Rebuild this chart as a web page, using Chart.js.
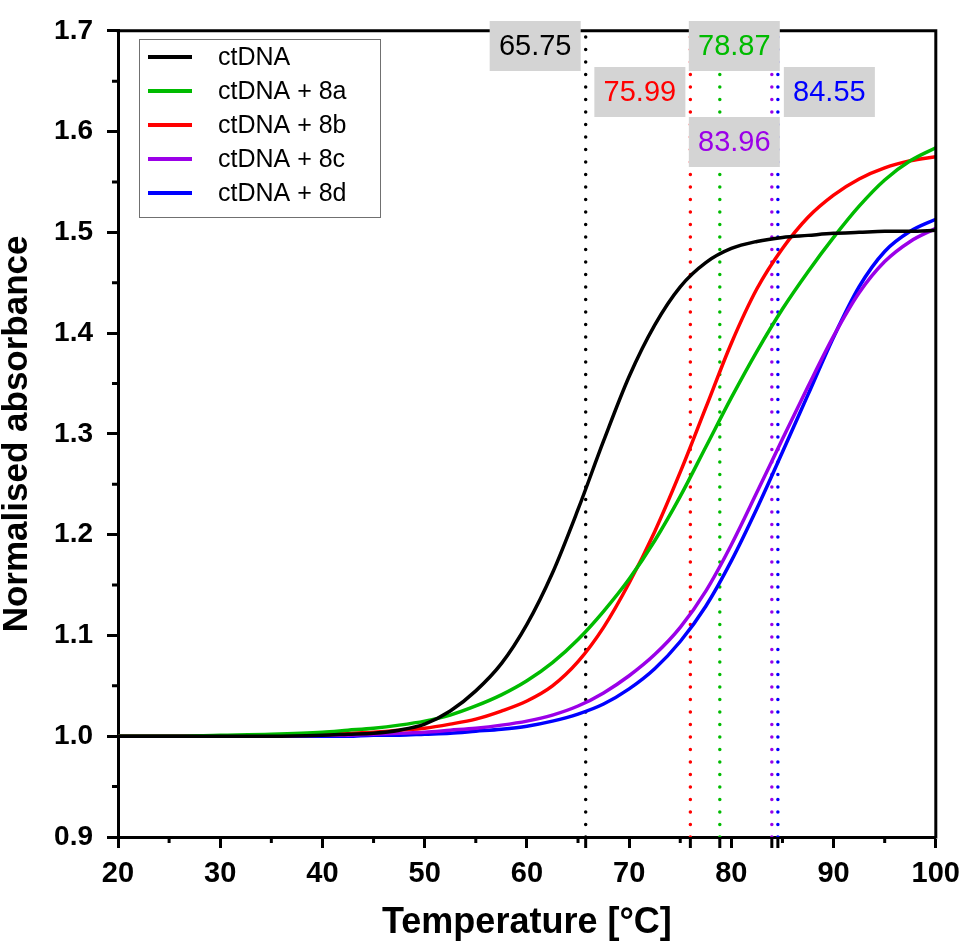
<!DOCTYPE html>
<html>
<head>
<meta charset="utf-8">
<script src="https://cdn.jsdelivr.net/npm/chart.js@4"></script>
<style>
  body { margin: 0; padding: 0; background: #fff; }
  #wrap { width: 969px; height: 946px; }
</style>
</head>
<body>
<div id="wrap"><canvas id="chart" width="969" height="946"></canvas></div>
<script>
// temperatures (°C) shared by every curve
const temps = [20, 25, 30, 35, 40, 42.5, 45, 47.5, 50, 52.5, 55, 57.5, 60, 62.5, 65, 67.5, 70,
               72.5, 75, 77.5, 80, 82.5, 85, 87.5, 90, 92.5, 95, 97.5, 100];

const ctDNA   = [1.000, 1.000, 1.000, 1.000, 1.001, 1.002, 1.003, 1.006, 1.012, 1.025, 1.045, 1.072, 1.111, 1.162, 1.225, 1.293, 1.357,
                 1.408, 1.446, 1.470, 1.484, 1.491, 1.495, 1.497, 1.499, 1.500, 1.501, 1.501, 1.502];
const ctDNA8a = [1.000, 1.000, 1.001, 1.002, 1.004, 1.006, 1.008, 1.011, 1.015, 1.021, 1.030, 1.041, 1.055, 1.073, 1.096, 1.124, 1.156,
                 1.194, 1.238, 1.287, 1.336, 1.382, 1.424, 1.461, 1.495, 1.526, 1.552, 1.571, 1.584];
const ctDNA8b = [1.000, 1.000, 1.000, 1.001, 1.002, 1.003, 1.004, 1.006, 1.008, 1.012, 1.017, 1.025, 1.035, 1.050, 1.074, 1.108, 1.152,
                 1.203, 1.262, 1.326, 1.390, 1.444, 1.484, 1.515, 1.537, 1.553, 1.564, 1.571, 1.575];
const ctDNA8c = [1.000, 1.000, 1.000, 1.000, 1.001, 1.001, 1.002, 1.003, 1.004, 1.006, 1.008, 1.011, 1.015, 1.021, 1.030, 1.043, 1.060,
                 1.081, 1.108, 1.144, 1.190, 1.242, 1.295, 1.347, 1.397, 1.440, 1.471, 1.491, 1.504];
const ctDNA8d = [1.000, 1.000, 1.000, 1.000, 1.000, 1.000, 1.001, 1.001, 1.002, 1.003, 1.005, 1.007, 1.010, 1.015, 1.022, 1.032, 1.047,
                 1.067, 1.094, 1.129, 1.174, 1.226, 1.282, 1.339, 1.396, 1.446, 1.481, 1.501, 1.513];

const seriesNames = ['ctDNA', 'ctDNA + 8a', 'ctDNA + 8b', 'ctDNA + 8c', 'ctDNA + 8d'];
const seriesColors = ['#000000', '#00bb00', '#ff0000', '#9b00e8', '#0000ff'];
const seriesValues = [ctDNA, ctDNA8a, ctDNA8b, ctDNA8c, ctDNA8d];

// melting temperatures, one per series
const meltTemps = [65.75, 78.87, 75.99, 83.96, 84.55];
const meltText  = ['65.75', '78.87', '75.99', '83.96', '84.55'];

const xTicks = [20, 30, 40, 50, 60, 70, 80, 90, 100];
const xMinor = [25, 35, 45, 55, 65, 75, 85, 95];
const yTicks = [0.9, 1.0, 1.1, 1.2, 1.3, 1.4, 1.5, 1.6, 1.7];
const yMinor = [0.95, 1.05, 1.15, 1.25, 1.35, 1.45, 1.55, 1.65];

// label box placement: left edge offset from the Tm line (px), top edge (px)
const boxPlace = [
  { dx: -96, top: 21 },
  { dx: -31, top: 21 },
  { dx: -96, top: 67 },
  { dx: -83, top: 117 },
  { dx: 6,   top: 67 }
];

const FONT = '"Liberation Sans", Arial, sans-serif';

const curveSets = seriesValues.map((vals, i) => ({
  label: seriesNames[i],
  data: temps.map((t, k) => ({ x: t, y: vals[k] })),
  borderColor: seriesColors[i],
  borderWidth: 3.5,
  pointRadius: 0,
  cubicInterpolationMode: 'monotone',
  fill: false,
  order: 1
}));

const lineSets = meltTemps.map((tm, i) => ({
  label: 'Tm ' + seriesNames[i],
  data: [{ x: tm, y: 0.9 }, { x: tm, y: 1.7 }],
  borderColor: seriesColors[i],
  borderWidth: 3.5,
  borderDash: [0, 12.5],
  borderCapStyle: 'round',
  pointRadius: 0,
  tension: 0,
  fill: false,
  order: 2
}));

const extras = {
  id: 'extras',
  afterDraw(chart) {
    const ctx = chart.ctx;
    const a = chart.chartArea;
    const x = chart.scales.x, y = chart.scales.y;
    ctx.save();
    ctx.strokeStyle = '#000';
    ctx.lineWidth = 3;
    ctx.lineCap = 'butt';
    // frame top + right
    ctx.beginPath();
    ctx.moveTo(a.left - 1.5, a.top);
    ctx.lineTo(a.right, a.top);
    ctx.lineTo(a.right, a.bottom + 1.5);
    ctx.stroke();
    // minor ticks
    ctx.beginPath();
    xMinor.forEach(v => { const p = x.getPixelForValue(v); ctx.moveTo(p, a.bottom); ctx.lineTo(p, a.bottom + 6); });
    yMinor.forEach(v => { const p = y.getPixelForValue(v); ctx.moveTo(a.left, p); ctx.lineTo(a.left - 6, p); });
    // ticks at the melting temperatures
    meltTemps.forEach(v => { const p = x.getPixelForValue(v); ctx.moveTo(p, a.bottom); ctx.lineTo(p, a.bottom + 11); });
    ctx.stroke();

    // Tm label boxes
    ctx.font = '29px ' + FONT;
    ctx.textAlign = 'center';
    ctx.textBaseline = 'middle';
    meltTemps.forEach((tm, i) => {
      const left = x.getPixelForValue(tm) + boxPlace[i].dx;
      const top = boxPlace[i].top;
      ctx.fillStyle = '#d4d4d4';
      ctx.fillRect(left, top, 91, 50);
      ctx.fillStyle = seriesColors[i];
      ctx.fillText(meltText[i], left + 45.5, top + 26);
    });

    // legend
    const lx = 139, ly = 39, lw = 241, lh = 178;
    ctx.fillStyle = '#fff';
    ctx.fillRect(lx, ly, lw, lh);
    ctx.strokeStyle = '#707070';
    ctx.lineWidth = 1;
    ctx.strokeRect(lx + 0.5, ly + 0.5, lw, lh);
    ctx.font = '25px ' + FONT;
    ctx.textAlign = 'left';
    seriesNames.forEach((name, i) => {
      const ry = 57 + i * 34;
      ctx.strokeStyle = seriesColors[i];
      ctx.lineWidth = 4;
      ctx.beginPath();
      ctx.moveTo(148, ry);
      ctx.lineTo(192, ry);
      ctx.stroke();
      ctx.fillStyle = '#000';
      ctx.fillText(name, 218, ry + 1);
    });
    ctx.restore();
  }
};

new Chart(document.getElementById('chart'), {
  type: 'line',
  data: { datasets: curveSets.concat(lineSets) },
  options: {
    responsive: false,
    devicePixelRatio: 1,
    animation: false,
    layout: { padding: { top: 15, right: 29, left: 0, bottom: 0 } },
    plugins: { legend: { display: false }, tooltip: { enabled: false } },
    scales: {
      x: {
        type: 'linear',
        min: 20,
        max: 100,
        afterBuildTicks: s => { s.ticks = xTicks.map(v => ({ value: v })); },
        afterFit: s => { s.height = 109; },
        ticks: {
          autoSkip: false,
          maxRotation: 0,
          padding: 9,
          color: '#000',
          font: { family: FONT, size: 29, weight: 'bold' },
          callback: v => String(v)
        },
        grid: { drawOnChartArea: false, tickLength: 11, tickWidth: 3, tickColor: '#000' },
        border: { width: 3, color: '#000' },
        title: {
          display: true,
          text: 'Temperature [°C]',
          color: '#000',
          font: { family: FONT, size: 36, weight: 'bold', lineHeight: 1 },
          padding: { top: 0, bottom: 5 }
        }
      },
      y: {
        min: 0.9,
        max: 1.7,
        afterBuildTicks: s => { s.ticks = yTicks.map(v => ({ value: v })); },
        afterFit: s => { s.width = 118; },
        ticks: {
          autoSkip: false,
          padding: 14,
          color: '#000',
          font: { family: FONT, size: 28, weight: 'bold' },
          callback: v => v.toFixed(1)
        },
        grid: { drawOnChartArea: false, tickLength: 11, tickWidth: 3, tickColor: '#000' },
        border: { width: 3, color: '#000' },
        title: {
          display: true,
          text: 'Normalised absorbance',
          color: '#000',
          font: { family: FONT, size: 35, weight: 'bold', lineHeight: 1 },
          padding: 0
        }
      }
    }
  },
  plugins: [extras]
});
</script>
</body>
</html>
